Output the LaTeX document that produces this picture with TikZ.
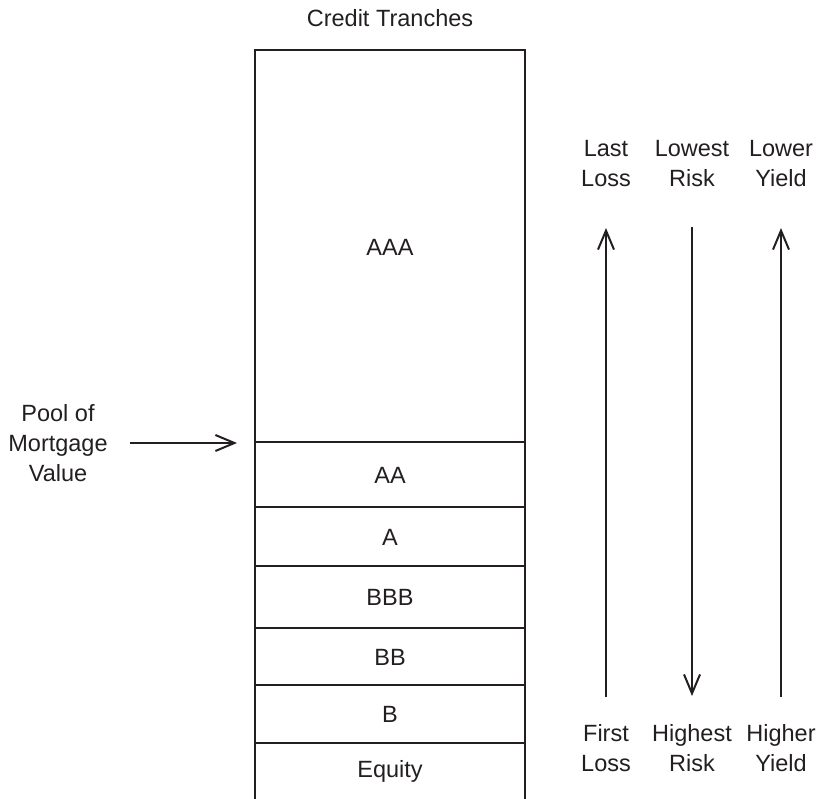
\documentclass[tikz,border=0pt]{standalone}
\usepackage{fontspec}
\setmainfont{Liberation Sans}
\usetikzlibrary{arrows.meta}
\definecolor{ink}{HTML}{231F20}
\begin{document}
\begin{tikzpicture}[x=1pt,y=-1pt,
  lbl/.style={font=\fontsize{23.5}{30}\selectfont, text=ink, align=center, inner sep=0pt},
  frame/.style={draw=ink, line width=2.2pt},
  flow/.style={draw=ink, line width=2pt, -{Straight Barb[length=19pt,width=16pt,line width=2pt]}}]
  \useasboundingbox (0,0) rectangle (824,798);

  % tranche stack, open at the bottom
  \draw[frame] (255,800) -- (255,50) -- (525,50) -- (525,800);
  \foreach \yy in {442,507,566,628,685,743}
    \draw[frame] (255,\yy) -- (525,\yy);

  \node[lbl] (title) at (390,18) {Credit Tranches};
  \node[lbl] (aaa) at (390,247) {AAA};
  \node[lbl] (aa) at (390,475) {AA};
  \node[lbl] (a) at (390,537) {A};
  \node[lbl] (bbb) at (390,597) {BBB};
  \node[lbl] (bb) at (390,657) {BB};
  \node[lbl] (b) at (390,714) {B};
  \node[lbl] (eq) at (390,771) {Equity};

  % pool value pointer
  \node[lbl] (pool) at (58,443) {Pool of\\Mortgage\\Value};
  \coordinate (poolstart) at (130,443);
  \coordinate (poolend) at (237,443);
  \draw[flow] (poolstart) -- (poolend);

  % loss / risk / yield scales
  \node[lbl] (lastloss) at (606,164) {Last\\Loss};
  \node[lbl] (lowrisk) at (692,164) {Lowest\\Risk};
  \node[lbl] (lowyield) at (781,164) {Lower\\Yield};
  \node[lbl] (firstloss) at (606,748) {First\\Loss};
  \node[lbl] (highrisk) at (692,748) {Highest\\Risk};
  \node[lbl] (highyield) at (781,748) {Higher\\Yield};

  \coordinate (lossbot) at (606,697);
  \coordinate (losstop) at (606,228);
  \coordinate (risktop) at (692,227);
  \coordinate (riskbot) at (692,696);
  \coordinate (yieldbot) at (781,697);
  \coordinate (yieldtop) at (781,228);
  \draw[flow] (lossbot) -- (losstop);
  \draw[flow] (risktop) -- (riskbot);
  \draw[flow] (yieldbot) -- (yieldtop);
\end{tikzpicture}
\end{document}
